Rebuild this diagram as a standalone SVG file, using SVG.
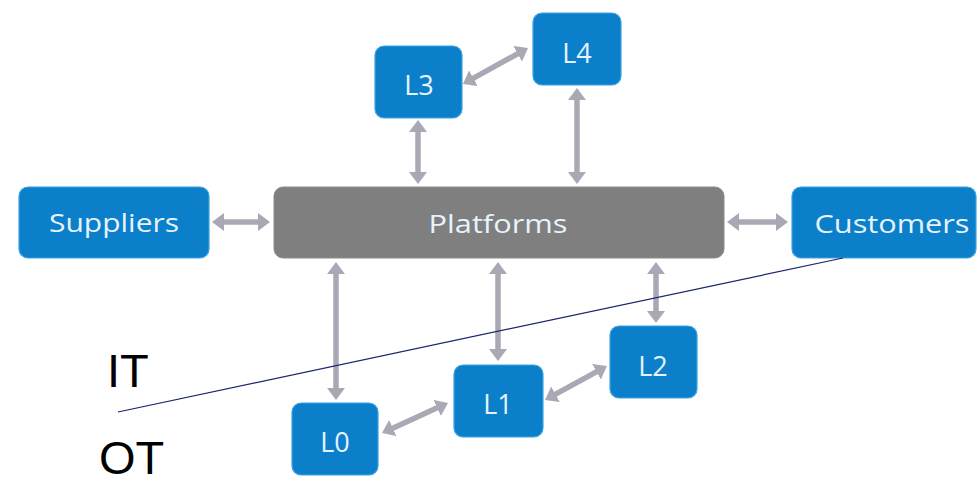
<svg xmlns="http://www.w3.org/2000/svg" width="979" height="485" viewBox="0 0 979 485">
<style>
.box{fill:#0b7fca;stroke:#3fa3e2;stroke-width:1.2}
.plat{fill:#7f7f7f;stroke:#8c8c8c;stroke-width:1}
.lbl{font-family:"Open Sans","Noto Sans",sans-serif;fill:#e6f3fc;text-anchor:middle}
.big{font-size:26px}
.small{font-size:27px}
.arr{stroke:#a9a9b6;stroke-width:5.5;fill:none;marker-start:url(#ah);marker-end:url(#ah)}
.it{font-family:"Liberation Sans",Arial,sans-serif;font-size:47px;fill:#000}
</style>
<defs>
<marker id="ah" markerUnits="userSpaceOnUse" markerWidth="14" markerHeight="18" refX="2" refY="9" orient="auto-start-reverse">
<path d="M0,0 L12,9 L0,18 z" fill="#a9a9b6"/>
</marker>
</defs>
<g id="connectors">
<line class="arr" x1="222" y1="222" x2="260" y2="222"/>
<line class="arr" x1="737" y1="222" x2="778" y2="222"/>
<line class="arr" x1="418" y1="130" x2="418" y2="174"/>
<line class="arr" x1="577" y1="98" x2="577" y2="174"/>
<line class="arr" x1="471.7" y1="79.2" x2="519.3" y2="52.8"/>
<line class="arr" x1="336" y1="272" x2="336" y2="390"/>
<line class="arr" x1="498" y1="272" x2="498" y2="351"/>
<line class="arr" x1="656" y1="272" x2="656" y2="313"/>
<line class="arr" x1="553.8" y1="395.2" x2="598.2" y2="370.8"/>
<line class="arr" x1="391.1" y1="428.9" x2="438.9" y2="407.1"/>
</g>
<g id="suppliers">
<rect class="box" x="19" y="187" width="190" height="71" rx="9"/>
<text class="lbl big" x="114" y="232" textLength="130" lengthAdjust="spacingAndGlyphs">Suppliers</text>
</g>
<g id="platforms">
<rect class="plat" x="274" y="187" width="450" height="71" rx="9"/>
<text class="lbl big" x="498" y="233" textLength="139" lengthAdjust="spacingAndGlyphs">Platforms</text>
</g>
<g id="customers">
<rect class="box" x="792" y="187" width="184" height="71" rx="9"/>
<text class="lbl big" x="892" y="233" textLength="155" lengthAdjust="spacingAndGlyphs">Customers</text>
</g>
<g id="L3">
<rect class="box" x="375" y="46" width="87" height="72" rx="9"/>
<text class="lbl small" x="419" y="95">L3</text>
</g>
<g id="L4">
<rect class="box" x="533" y="13" width="88" height="72" rx="9"/>
<text class="lbl small" x="577" y="63">L4</text>
</g>
<g id="L0">
<rect class="box" x="292" y="403" width="86" height="72" rx="9"/>
<text class="lbl small" x="335" y="452">L0</text>
</g>
<g id="L1">
<rect class="box" x="454" y="365" width="89" height="72" rx="9"/>
<text class="lbl small" x="498" y="414">L1</text>
</g>
<g id="L2">
<rect class="box" x="610" y="326" width="87" height="72" rx="9"/>
<text class="lbl small" x="653" y="376">L2</text>
</g>
<g id="boundary">
<line x1="118" y1="412" x2="843" y2="258" stroke="#1c2470" stroke-width="1.2"/>
<text class="it" x="107" y="387">IT</text>
<text class="it" x="99" y="474" font-size="46">OT</text>
</g>
</svg>
